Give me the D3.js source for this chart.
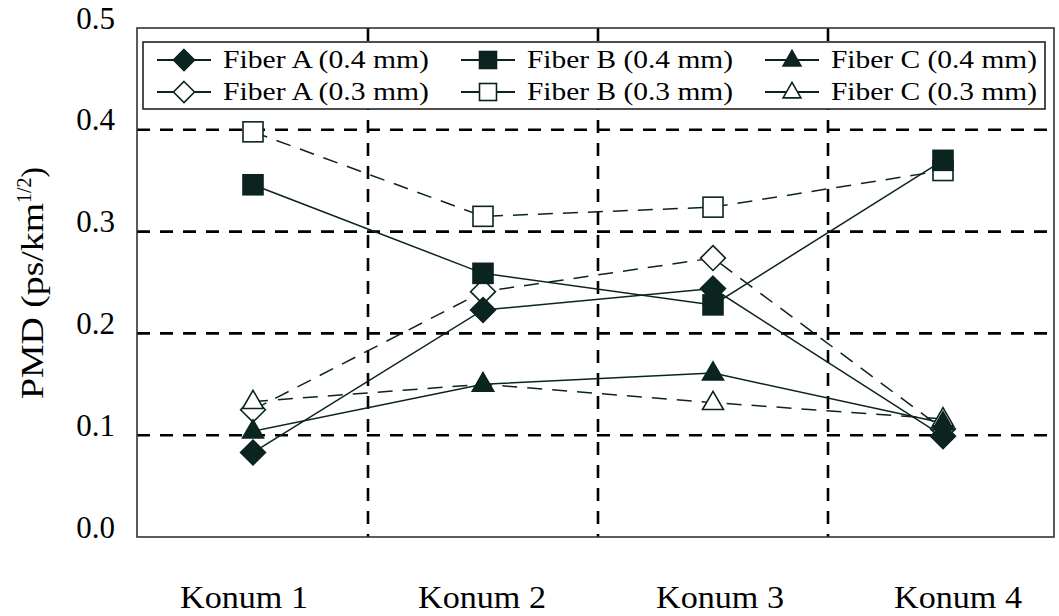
<!DOCTYPE html>
<html>
<head>
<meta charset="utf-8">
<script src="https://cdn.jsdelivr.net/npm/d3@7"></script>
<style>
  html, body { margin: 0; padding: 0; background: #fff; }
  svg { display: block; font-family: "Liberation Serif", "Times New Roman", serif; }
</style>
</head>
<body>
<svg id="chart" width="1059" height="616"></svg>
<script>
// ---- data ----
const categories = ["Konum 1", "Konum 2", "Konum 3", "Konum 4"];
const yTicks = [0.0, 0.1, 0.2, 0.3, 0.4, 0.5];
const fiberA04 = [0.083, 0.223, 0.244, 0.099];
const fiberA03 = [0.125, 0.241, 0.274, 0.106];
const fiberB04 = [0.346, 0.259, 0.228, 0.370];
const fiberB03 = [0.398, 0.315, 0.324, 0.360];
const fiberC04 = [0.104, 0.150, 0.161, 0.112];
const fiberC03 = [0.133, 0.150, 0.132, 0.116];
const seriesNames = ["Fiber A (0.4 mm)", "Fiber B (0.4 mm)", "Fiber C (0.4 mm)",
                     "Fiber A (0.3 mm)", "Fiber B (0.3 mm)", "Fiber C (0.3 mm)"];

const series = [
  { name: seriesNames[0], values: fiberA04, shape: "diamond", filled: true,  dashed: false },
  { name: seriesNames[1], values: fiberB04, shape: "square",  filled: true,  dashed: false },
  { name: seriesNames[2], values: fiberC04, shape: "triangle",filled: true,  dashed: false },
  { name: seriesNames[3], values: fiberA03, shape: "diamond", filled: false, dashed: true },
  { name: seriesNames[4], values: fiberB03, shape: "square",  filled: false, dashed: true },
  { name: seriesNames[5], values: fiberC03, shape: "triangle",filled: false, dashed: true }
];

const ink = "#0c2420";
const svg = d3.select("#chart");
const pLeft = 137, pRight = 1054, pTop = 28, pBottom = 537;

const x = d3.scaleBand().domain(categories).range([138, 1058]).padding(0);
const xLabel = d3.scaleBand().domain(categories).range([125, 1077]).padding(0);
const y = d3.scaleLinear().domain([0, 0.5]).range([pBottom, pTop]);
const cx = d => x(d) + x.bandwidth() / 2;

// gridlines
svg.append("g").selectAll("line").data(yTicks.filter(t => t > 0 && t < 0.5))
  .join("line")
  .attr("x1", pLeft).attr("x2", pRight)
  .attr("y1", d => y(d)).attr("y2", d => y(d))
  .attr("stroke", "#000").attr("stroke-width", 2.6).attr("stroke-dasharray", "13,10");
svg.append("g").selectAll("line").data(categories.slice(1))
  .join("line")
  .attr("x1", d => x(d)).attr("x2", d => x(d))
  .attr("y1", pTop).attr("y2", pBottom)
  .attr("stroke", "#000").attr("stroke-width", 2.6).attr("stroke-dasharray", "13,10");

// frame
svg.append("rect").attr("x", pLeft).attr("y", pTop)
  .attr("width", pRight - pLeft).attr("height", pBottom - pTop)
  .attr("fill", "none").attr("stroke", "#333").attr("stroke-width", 1.6);

// y axis
const yAxis = svg.append("g").attr("transform", `translate(${pLeft},0)`)
  .call(d3.axisLeft(y).tickValues(yTicks).tickFormat(d3.format(".1f")).tickSize(0).tickPadding(22));
yAxis.select(".domain").remove();
yAxis.selectAll("text").attr("dy", "0").attr("font-size", 31)
  .attr("font-family", "Liberation Serif, serif").attr("fill", "#000");

// x axis labels
const xAxis = svg.append("g").attr("transform", `translate(0,${pBottom})`)
  .call(d3.axisBottom(xLabel).tickSize(0).tickPadding(48));
xAxis.select(".domain").remove();
xAxis.selectAll("text").attr("font-size", 32)
  .attr("textLength", 128).attr("lengthAdjust", "spacingAndGlyphs")
  .attr("font-family", "Liberation Serif, serif").attr("fill", "#000");

// y title
const yt = svg.append("text")
  .attr("transform", "translate(43,283) rotate(-90)")
  .attr("text-anchor", "middle").attr("font-size", 31).attr("fill", "#000");
yt.append("tspan").attr("textLength", 196).attr("lengthAdjust", "spacingAndGlyphs").text("PMD (ps/km");
yt.append("tspan").attr("font-size", 20).attr("dy", -12).text("1/2");
yt.append("tspan").attr("dy", 12).text(")");

// marker generator
function marker(g, shape, filled, size) {
  let p;
  if (shape === "square") {
    p = g.append("rect").attr("x", -size / 2).attr("y", -size / 2)
      .attr("width", size).attr("height", size);
  } else if (shape === "diamond") {
    const r = size * 0.62;
    p = g.append("path").attr("d", `M0,${-r}L${r},0L0,${r}L${-r},0Z`);
  } else {
    const s = size * 1.05, h = s * 0.87;
    p = g.append("path").attr("d", `M0,${-h * 0.62}L${s / 2},${h * 0.38}L${-s / 2},${h * 0.38}Z`);
  }
  p.attr("fill", filled ? ink : "#fff").attr("stroke", ink).attr("stroke-width", 1.6);
}

// lines
const line = d3.line().x((d, i) => cx(categories[i])).y(d => y(d));
const plot = svg.append("g");
series.forEach(s => {
  plot.append("path").datum(s.values).attr("d", line)
    .attr("fill", "none").attr("stroke", ink).attr("stroke-width", 1.5)
    .attr("stroke-dasharray", s.dashed ? "15,10" : null);
});
// markers
[3, 4, 5, 0, 1, 2].forEach(k => {
  const s = series[k];
  s.values.forEach((v, i) => {
    const g = plot.append("g").attr("transform", `translate(${cx(categories[i])},${y(v)})`);
    marker(g, s.shape, s.filled, 20);
  });
});

// legend
const lg = svg.append("g");
lg.append("rect").attr("x", 143).attr("y", 42).attr("width", 902).attr("height", 67)
  .attr("fill", "#fff").attr("stroke", "#222").attr("stroke-width", 1.6);
const colX = [184, 488, 792];
const rowY = [60, 92];
series.forEach((s, k) => {
  const col = k % 3, row = Math.floor(k / 3);
  const g = lg.append("g").attr("transform", `translate(${colX[col]},${rowY[row]})`);
  g.append("line").attr("x1", -27).attr("x2", 27).attr("stroke", ink).attr("stroke-width", 2.2);
  marker(g, s.shape, s.filled, 17);
  g.append("text").attr("x", 39).attr("y", 8).attr("font-size", 26).attr("fill", "#000")
    .attr("textLength", 206).attr("lengthAdjust", "spacingAndGlyphs")
    .text(s.name);
});
</script>
</body>
</html>
